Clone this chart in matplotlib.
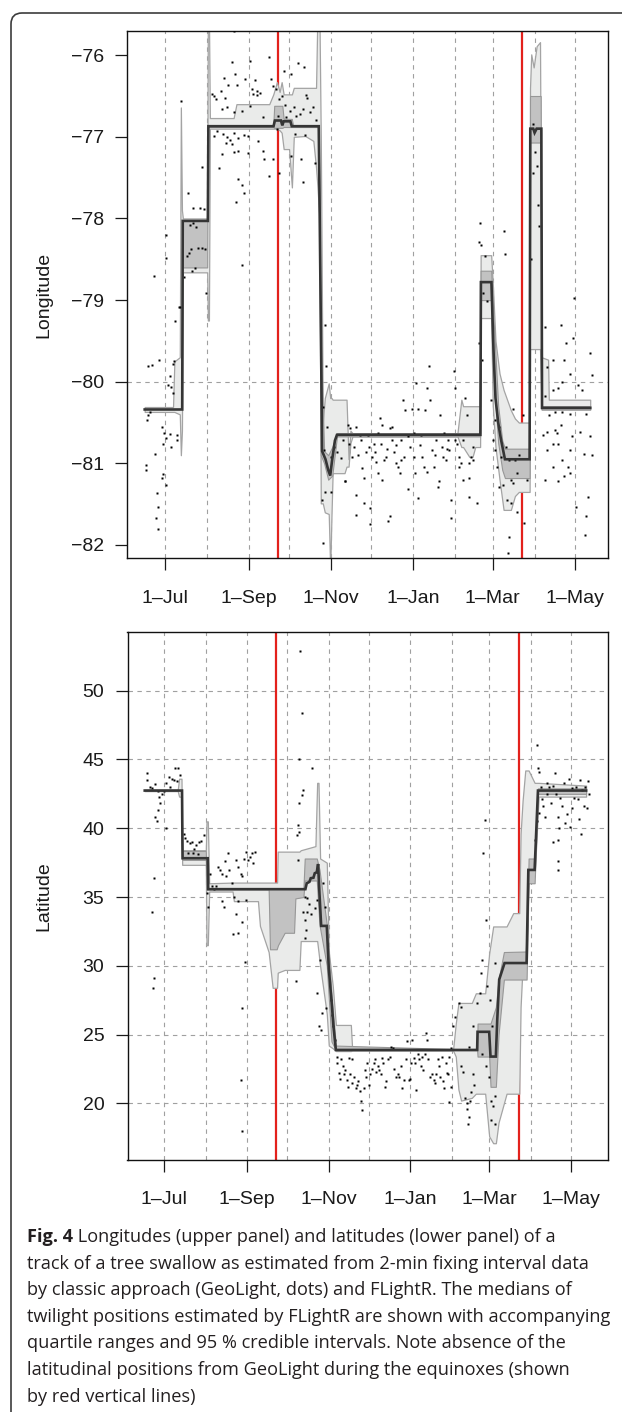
import numpy as np
import matplotlib
matplotlib.use("Agg")
import matplotlib.pyplot as plt
from matplotlib.patches import FancyBboxPatch
from matplotlib.transforms import IdentityTransform

# days are counted from 1 July
month_days = [0, 31, 62, 92, 123, 153, 184, 215, 243, 274, 304]
tick_days = [0, 62, 123, 184, 243, 304]
tick_labels = ['1\u2013Jul', '1\u2013Sep', '1\u2013Nov', '1\u2013Jan', '1\u2013Mar', '1\u2013May']
equinox_days = [83.5, 265.0]

lon_ticks = [-82, -81, -80, -79, -78, -77, -76]
lon_grid = [-80]
lat_ticks = [20, 25, 30, 35, 40, 45, 50]
lat_grid = [20, 25, 30, 35, 40, 45, 50]

# FLightR median (day, value)
lon_med = [(-15.0, -80.34), (12.8, -80.34), (13.2, -78.03), (31.8, -78.03), (32.2, -76.87),
           (80.5, -76.87), (81.5, -76.80), (86.0, -76.80), (87.0, -76.86), (88.0, -76.81),
           (93.0, -76.81), (94.0, -76.87), (114.0, -76.87), (115.5, -79.2), (116.5, -80.85),
           (119.0, -80.95), (121.0, -81.08), (122.5, -81.15), (124.0, -80.95), (126.0, -80.72),
           (127.5, -80.65), (233.8, -80.65), (234.2, -78.78), (242.0, -78.78), (243.5, -79.6),
           (245.0, -80.2), (247.0, -80.5), (249.0, -80.7), (252.0, -80.95), (270.3, -80.95),
           (270.8, -76.9), (273.0, -76.9), (274.0, -76.95), (275.5, -76.9), (279.0, -76.9),
           (279.5, -80.32), (315.2, -80.32)]

# 95 % credible interval (day, low, high)
lon_ci = [(-15.0, -80.37, -80.31), (6.0, -80.37, -80.31), (7.0, -80.37, -79.75), (11.0, -80.40, -79.70),
          (11.8, -80.90, -76.64), (12.6, -80.60, -77.90), (13.3, -78.66, -78.00), (31.3, -78.66, -78.00),
          (31.8, -79.25, -75.50), (32.6, -79.25, -75.50), (33.3, -76.90, -76.77), (50.9, -76.90, -76.77),
          (53.0, -76.90, -76.60), (77.3, -76.90, -76.60), (80.3, -76.90, -76.48), (83.0, -76.90, -76.33),
          (85.0, -76.92, -76.45), (86.5, -76.95, -76.33), (88.0, -77.15, -76.48), (92.0, -77.15, -76.48),
          (94.1, -77.62, -76.48), (95.5, -77.00, -76.40), (104.0, -76.99, -76.40), (110.0, -77.05, -76.40),
          (112.0, -77.38, -76.40), (113.0, -77.60, -75.50), (114.5, -78.00, -75.50), (115.5, -81.49, -77.00),
          (117.0, -81.49, -80.50), (118.5, -81.60, -80.20), (121.4, -81.62, -80.02), (122.5, -82.30, -80.20),
          (123.5, -81.60, -80.20), (124.3, -81.12, -80.22), (133.1, -81.12, -80.22), (134.6, -81.04, -80.22),
          (136.1, -81.04, -80.95), (137.5, -80.75, -80.60), (139.0, -80.67, -80.63), (216.8, -80.67, -80.63),
          (219.7, -80.80, -80.22), (221.0, -80.80, -80.30), (225.6, -80.92, -80.30), (228.0, -80.92, -80.30),
          (230.0, -80.80, -80.30), (233.6, -80.80, -80.30), (234.0, -79.22, -78.45), (241.8, -79.22, -78.45),
          (243.0, -80.30, -78.80), (245.0, -80.80, -79.50), (248.0, -81.20, -79.90), (251.0, -81.57, -80.10),
          (256.4, -81.57, -80.35), (259.4, -81.40, -80.45), (262.3, -81.35, -80.50), (270.3, -81.35, -80.50),
          (270.6, -79.60, -76.40), (271.5, -79.60, -75.99), (273.3, -79.60, -76.15), (275.5, -79.60, -75.89),
          (278.0, -79.60, -75.84), (279.2, -80.34, -79.70), (284.0, -80.34, -79.73), (284.5, -80.34, -80.22),
          (315.2, -80.34, -80.22)]

# quartile range (day, low, high)
lon_q = [(13.3, -78.60, -78.03), (31.3, -78.60, -78.03), (31.8, -76.88, -76.86), (80.3, -76.88, -76.86),
         (81.0, -76.89, -76.62), (87.0, -76.89, -76.62), (88.0, -76.88, -76.78), (94.0, -76.88, -76.78),
         (95.0, -76.88, -76.86), (114.0, -76.88, -76.86), (115.5, -80.90, -79.50), (118.0, -81.00, -80.85),
         (121.0, -81.20, -80.90), (124.0, -81.15, -80.80), (127.5, -80.67, -80.63), (233.6, -80.67, -80.63),
         (234.0, -79.00, -78.64), (241.8, -79.00, -78.64), (243.5, -79.90, -79.20), (247.0, -80.75, -80.30),
         (250.0, -81.08, -80.72), (252.0, -81.18, -80.82), (270.3, -81.18, -80.82), (270.6, -77.07, -76.50),
         (278.5, -77.07, -76.50), (279.2, -80.34, -80.30), (315.2, -80.34, -80.30)]

# GeoLight positions (day, value)
lon_dots = [(-12.2, -79.81), (-9.8, -79.80), (-4.3, -79.73), (-12.2, -80.41), (-13.1, -80.47), (-11.3, -80.37),
            (6.9, -79.75), (5.7, -79.78), (3.4, -79.93), (4.5, -80.07), (2.2, -80.04), (6.0, -80.14),
            (-1.9, -80.55), (-0.5, -80.63), (1.0, -80.69), (3.7, -80.64), (4.5, -80.80), (8.6, -80.65),
            (9.2, -80.71), (-1.3, -80.76), (-7.2, -80.89), (-13.7, -81.02), (-14.3, -81.08), (-1.6, -81.13),
            (-2.2, -81.18), (1.0, -81.26), (-5.7, -81.36), (-4.9, -81.53), (-6.9, -81.67), (-4.9, -81.81),
            (7.2, -79.26), (11.3, -79.09), (1.0, -78.20), (1.0, -78.48), (-8.4, -78.71), (12.2, -76.56),
            (10.4, -79.08),
            (17.2, -77.69), (21.0, -77.87), (26.0, -77.87), (28.9, -77.88), (27.4, -77.37), (24.5, -78.36),
            (27.4, -78.36), (29.8, -78.38), (16.3, -78.46), (18.0, -78.42), (19.5, -78.38), (18.6, -78.08),
            (21.0, -78.06), (23.3, -78.10), (20.4, -78.64), (22.4, -78.61), (13.9, -78.72), (30.4, -78.91),
            (56.8, -78.57),
            (50.9, -75.70), (49.5, -76.08), (63.3, -76.07), (76.8, -76.02), (88.2, -76.19), (93.5, -76.23),
            (98.8, -76.09), (103.2, -76.15), (52.1, -76.23), (43.6, -76.28), (47.1, -76.36), (41.2, -76.44),
            (53.6, -76.36), (34.8, -76.48), (36.5, -76.50), (38.0, -76.54), (44.8, -76.53), (46.0, -76.64),
            (59.7, -76.29), (66.5, -76.31), (64.7, -76.41), (68.0, -76.44), (70.3, -76.46), (65.6, -76.47),
            (68.5, -76.49), (78.8, -76.29), (80.3, -76.38), (82.3, -76.42), (84.7, -76.54), (86.7, -76.50),
            (89.1, -76.61), (92.6, -76.68), (95.5, -76.63), (100.0, -76.72), (102.3, -76.66), (105.5, -76.53),
            (109.6, -76.64), (104.7, -76.49), (42.1, -76.66), (51.5, -76.70), (57.4, -76.68), (63.3, -76.62),
            (73.0, -76.76), (84.1, -76.74), (89.7, -76.76), (97.3, -76.75), (107.3, -76.70), (111.7, -76.79),
            (36.2, -76.99), (38.6, -76.93), (42.7, -76.97), (46.0, -77.00), (48.0, -77.04), (50.9, -76.95),
            (54.5, -77.01), (58.6, -76.98), (61.8, -76.99), (45.6, -77.07), (49.8, -77.09), (53.9, -77.17),
            (61.8, -77.20), (42.1, -77.21), (51.5, -77.18), (72.4, -77.17), (40.1, -77.38), (69.1, -77.05),
            (73.5, -77.27), (80.3, -77.27), (84.7, -77.44), (77.3, -77.48), (93.5, -77.23), (100.8, -77.27),
            (96.7, -76.97), (103.8, -76.98), (111.4, -77.32), (57.4, -77.59), (53.9, -77.52), (58.6, -77.69),
            (52.7, -77.80), (102.0, -77.55), (83.2, -76.91),
            (118.5, -79.31), (119.3, -79.81), (117.0, -80.31), (119.9, -80.55), (117.9, -80.84), (123.2, -80.92),
            (125.2, -80.80), (127.3, -80.86), (130.2, -80.94), (131.7, -80.71), (133.7, -81.22), (135.5, -80.53),
            (137.5, -80.57), (139.9, -80.80), (141.9, -80.55), (143.4, -80.90), (145.5, -80.71), (146.3, -81.06),
            (147.8, -81.18), (150.2, -80.65), (151.6, -80.80), (153.7, -80.92), (155.1, -80.76), (156.6, -80.98),
            (158.1, -80.63), (159.6, -80.45), (161.0, -80.53), (162.5, -80.96), (164.8, -80.82), (166.9, -80.57),
            (168.4, -80.71), (169.8, -80.86), (171.3, -81.00), (172.8, -81.04), (174.8, -80.71), (176.6, -80.22),
            (177.8, -80.35), (180.1, -80.67), (181.6, -80.80), (183.0, -80.33), (184.5, -80.63), (186.0, -80.02),
            (187.5, -80.33), (188.9, -80.78), (190.4, -80.92), (192.5, -80.35), (194.2, -80.08), (195.4, -79.81),
            (196.3, -80.22), (197.7, -80.84), (199.2, -81.04), (200.7, -80.71), (202.1, -81.29), (203.6, -80.41),
            (205.1, -80.80), (206.5, -80.63), (208.0, -80.96), (209.5, -80.71), (210.9, -80.84), (212.4, -81.45),
            (213.9, -79.87), (214.7, -80.08), (215.3, -80.71), (216.8, -80.76), (218.3, -81.04), (219.7, -81.00),
            (221.2, -81.20), (222.7, -80.20), (224.1, -80.41), (225.6, -81.18), (227.1, -80.92), (228.6, -80.96),
            (231.5, -81.49), (225.6, -81.41), (212.4, -81.67), (180.1, -81.31), (187.5, -81.43), (166.9, -81.65),
            (165.4, -81.71), (152.2, -81.74), (152.2, -81.55), (147.2, -81.49), (141.3, -81.39), (141.3, -81.63),
            (133.1, -81.22), (158.1, -81.12), (161.0, -81.20), (174.2, -81.12), (185.4, -81.12), (194.2, -81.10),
            (203.0, -81.22), (117.0, -81.97), (118.5, -81.35), (122.9, -81.35), (116.1, -81.45), (225.6, -81.00),
            (136.1, -80.76), (139.0, -80.92), (149.3, -80.86), (156.0, -80.86), (160.1, -80.76), (164.0, -80.92),
            (171.3, -80.78), (177.2, -80.92), (184.5, -80.92), (189.5, -80.65), (191.9, -81.04), (200.0, -80.90),
            (205.9, -80.92), (208.9, -80.82), (218.3, -80.92), (221.2, -80.71), (228.6, -80.80), (144.3, -80.65),
            (168.4, -80.55), (174.8, -80.96),
            (233.6, -78.06), (251.2, -78.15), (252.0, -78.44), (233.0, -78.29), (237.4, -78.46), (234.4, -78.33),
            (238.8, -79.01), (235.9, -78.91), (233.0, -79.53), (235.3, -79.73), (241.8, -80.22), (243.2, -80.71),
            (244.7, -80.47), (247.6, -80.55), (249.1, -80.92), (244.7, -80.84), (246.2, -81.04), (254.9, -80.96),
            (256.4, -81.20), (257.9, -81.24), (259.4, -80.96), (260.8, -81.12), (262.3, -80.90), (257.9, -80.33),
            (265.3, -80.41), (253.5, -81.45), (256.4, -81.49), (260.8, -81.59), (265.9, -81.73), (254.9, -81.90),
            (254.3, -82.10), (250.6, -81.27), (247.6, -81.29), (252.9, -80.80), (268.2, -81.20),
            (272.6, -76.84), (274.1, -77.19), (275.5, -77.36), (277.0, -78.09), (276.4, -77.84), (272.6, -77.44),
            (271.1, -78.50), (303.4, -78.97), (281.4, -79.33), (282.9, -79.82), (287.3, -79.73), (293.2, -79.31),
            (297.6, -79.53), (302.8, -79.46), (296.1, -79.73), (300.5, -79.90), (287.3, -80.10), (291.7, -80.08),
            (294.0, -80.00), (306.4, -80.04), (309.3, -80.10), (315.2, -79.65), (316.7, -79.92), (281.4, -80.18),
            (284.3, -80.41), (288.8, -80.37), (294.6, -80.37), (300.5, -80.39), (312.2, -80.39), (280.0, -80.65),
            (282.9, -80.61), (288.8, -80.59), (290.3, -80.63), (293.2, -80.53), (282.9, -80.84), (287.3, -80.76),
            (291.7, -80.76), (300.5, -80.84), (302.0, -80.67), (307.9, -80.61), (315.2, -80.67), (316.7, -80.90),
            (310.7, -80.88), (294.6, -80.96), (299.0, -81.04), (300.5, -81.12), (291.7, -81.22), (296.1, -81.16),
            (305.0, -81.53), (312.2, -81.65), (311.6, -81.88), (313.7, -81.41), (287.3, -81.04), (281.4, -81.20)]

lat_med = [(-14.7, 42.74), (13.2, 42.74), (13.6, 37.82), (32.4, 37.82), (32.8, 35.57), (105.5, 35.57),
           (106.5, 36.0), (108.5, 36.1), (109.5, 36.37), (111.5, 36.4), (112.5, 36.73), (114.0, 36.8),
           (115.0, 37.4), (116.0, 35.3), (117.3, 32.9), (121.5, 32.9), (123.0, 29.8), (125.0, 27.5),
           (126.5, 25.6), (128.3, 23.88), (234.0, 23.88), (234.3, 25.2), (243.0, 25.2), (244.0, 23.4),
           (248.0, 23.4), (249.0, 26.0), (250.5, 29.0), (254.5, 30.2), (271.0, 30.2), (272.3, 36.97),
           (277.0, 36.97), (279.5, 42.74), (315.5, 42.74)]

lat_ci = [(-14.7, 42.70, 42.80), (10.0, 42.70, 42.80), (11.0, 42.30, 43.60), (12.8, 42.30, 43.60),
          (13.3, 37.34, 38.40), (31.0, 37.34, 38.40), (31.5, 31.50, 40.50), (32.5, 31.50, 40.50),
          (33.5, 35.40, 36.00), (51.0, 35.40, 36.05), (52.0, 34.70, 36.05), (70.0, 34.70, 36.05),
          (71.5, 32.90, 36.05), (78.0, 31.00, 36.05), (81.0, 28.40, 36.05), (84.3, 28.40, 36.05),
          (84.8, 29.50, 38.30), (90.0, 29.70, 38.30), (101.0, 29.70, 38.30), (102.0, 31.80, 38.40),
          (113.0, 31.80, 38.70), (114.3, 31.80, 43.30), (115.3, 31.00, 43.30), (116.5, 30.00, 37.80),
          (121.5, 26.50, 37.50), (123.0, 24.20, 31.00), (126.0, 24.00, 28.50), (128.3, 23.80, 25.70),
          (139.5, 23.80, 25.70), (140.5, 23.84, 23.92), (216.0, 23.84, 23.92), (218.0, 23.40, 25.80),
          (220.0, 21.00, 27.30), (222.0, 20.20, 27.30), (230.0, 20.40, 27.30), (233.0, 20.70, 28.00),
          (240.0, 20.70, 28.00), (243.0, 17.60, 30.90), (246.0, 17.10, 32.86), (248.0, 17.10, 32.86),
          (250.0, 18.60, 32.86), (256.0, 20.70, 32.86), (261.0, 20.70, 33.83), (265.5, 20.70, 33.83),
          (266.5, 27.00, 39.60), (268.0, 30.00, 42.00), (270.0, 30.00, 44.20), (272.5, 36.00, 44.20),
          (277.0, 36.50, 43.30), (280.0, 42.30, 43.30), (315.5, 42.30, 43.10)]

lat_q = [(13.3, 37.70, 38.35), (31.0, 37.70, 38.35), (31.5, 35.55, 35.60), (78.0, 35.55, 35.60),
         (79.0, 31.20, 35.60), (84.0, 31.20, 35.60), (85.0, 31.50, 35.60), (90.0, 32.40, 35.60),
         (97.0, 32.40, 35.60), (98.0, 34.90, 35.60), (104.0, 35.00, 35.60), (105.0, 36.20, 37.80),
         (114.0, 36.20, 37.80), (116.0, 33.00, 37.00), (121.5, 30.00, 33.00), (125.0, 24.50, 28.00),
         (128.3, 23.86, 24.20), (234.0, 23.86, 23.90), (234.3, 23.40, 25.80), (243.0, 23.40, 25.80),
         (244.0, 21.20, 25.80), (248.0, 21.20, 27.00), (250.0, 25.00, 29.00), (254.0, 29.00, 31.00),
         (271.0, 29.00, 31.04), (272.5, 36.00, 37.80), (277.0, 36.00, 37.80), (279.5, 42.50, 42.90),
         (315.5, 42.50, 42.90)]

lat_dots = [(-12.8, 44.0), (-12.8, 43.5), (-11.0, 43.0), (-8.9, 42.9), (-6.8, 43.2), (-5.1, 42.7), (-3.9, 42.3),
            (-3.0, 41.8), (-5.1, 41.3), (-6.8, 40.8), (-5.9, 40.5), (1.5, 40.0), (0.0, 42.7), (1.5, 43.3),
            (3.8, 43.7), (5.9, 43.6), (7.4, 43.5), (8.3, 44.4), (10.3, 44.4), (9.8, 43.4), (11.8, 43.9),
            (4.4, 43.0), (-1.5, 42.5), (-8.0, 36.4), (-9.5, 33.9), (-8.0, 29.1), (-8.6, 28.4),
            (15.7, 39.3), (16.9, 39.1), (19.2, 38.9), (20.7, 39.0), (22.2, 38.5), (23.7, 38.8), (25.8, 39.0),
            (27.5, 39.1), (29.9, 39.5), (17.8, 38.2), (21.6, 38.2), (25.2, 38.1), (14.8, 39.6),
            (34.1, 36.7), (35.5, 35.8), (37.0, 35.6), (38.5, 35.8), (40.0, 37.2), (41.5, 37.0), (42.9, 36.7),
            (45.3, 37.6), (47.4, 38.2), (45.9, 36.5), (48.3, 37.0), (50.4, 36.0), (51.8, 35.0), (53.9, 37.7),
            (55.4, 37.2), (57.2, 36.7), (59.2, 37.8), (60.7, 38.3), (62.2, 37.7), (63.7, 37.9), (65.2, 38.2),
            (68.1, 38.3), (66.6, 37.5), (54.8, 34.7), (53.3, 33.8), (57.8, 33.2), (51.2, 32.3), (55.4, 32.4),
            (44.4, 34.3), (42.9, 34.7), (32.6, 34.3), (31.7, 35.3), (60.7, 34.8), (58.3, 36.5),
            (60.1, 30.3), (57.8, 26.9), (57.2, 21.7), (57.8, 18.0),
            (99.8, 37.7), (100.7, 39.7), (102.8, 48.35), (101.3, 52.9), (100.7, 45.0), (110.2, 44.4),
            (103.7, 42.8), (102.8, 42.4), (100.7, 41.8), (99.8, 40.2), (99.2, 39.5), (105.2, 35.0),
            (106.7, 34.9), (108.1, 34.5), (103.7, 33.9), (106.7, 33.9), (105.2, 33.3), (109.6, 33.8),
            (112.6, 34.2), (114.1, 34.8), (106.1, 32.6), (105.2, 32.0), (116.4, 30.4), (118.5, 36.0),
            (120.0, 34.3), (98.6, 28.9), (114.1, 28.0), (115.5, 25.6), (117.0, 25.3), (117.6, 26.6),
            (120.6, 26.9), (124.4, 27.5), (125.3, 26.4), (126.5, 25.6), (127.4, 24.6),
            (128.9, 23.4), (129.5, 22.9), (130.4, 22.2), (131.2, 21.8), (131.8, 23.2), (133.3, 22.7),
            (134.2, 22.1), (134.8, 22.4), (136.3, 21.7), (137.2, 21.2), (137.8, 23.3), (139.2, 22.1),
            (140.1, 21.5), (140.7, 23.2), (142.2, 21.9), (143.1, 21.1), (144.3, 21.3), (145.2, 21.6),
            (146.1, 20.9), (147.2, 20.2), (148.1, 19.5), (149.0, 21.1), (150.2, 22.4), (151.1, 21.9),
            (151.9, 22.9), (153.2, 21.3), (154.0, 22.1), (155.5, 22.5), (157.0, 22.9), (157.9, 23.2),
            (158.5, 22.3), (160.0, 22.7), (160.9, 22.4), (162.1, 22.1), (162.9, 23.3), (163.8, 22.9),
            (165.0, 21.2), (165.9, 21.6), (167.4, 23.2), (168.9, 23.4), (169.8, 24.1), (170.9, 24.0),
            (171.8, 22.5), (173.3, 21.9), (174.8, 22.1), (175.7, 21.9), (176.9, 22.7), (177.8, 21.1),
            (179.3, 21.7), (180.7, 23.2), (181.6, 24.5), (182.8, 21.7), (183.7, 21.8), (184.6, 22.9),
            (185.2, 24.6), (186.7, 23.3), (187.5, 22.9), (188.1, 21.0), (189.6, 23.6), (190.5, 23.2),
            (191.7, 22.7), (192.6, 23.4), (193.5, 22.4), (194.7, 23.6), (195.6, 25.1), (196.5, 24.6),
            (197.6, 23.2), (198.5, 21.9), (200.0, 22.1), (201.5, 21.7), (202.4, 21.5), (203.0, 22.1),
            (204.4, 23.2), (205.3, 22.7), (206.5, 21.9), (207.4, 23.4), (208.3, 21.6), (208.9, 21.1),
            (210.4, 22.9), (211.3, 22.2), (212.4, 22.1), (213.3, 23.4), (213.3, 20.1), (214.2, 21.2),
            (214.8, 24.0), (216.3, 25.6), (217.8, 26.3), (220.1, 27.3), (222.2, 27.0), (222.2, 22.7),
            (223.1, 22.3), (225.2, 20.4), (226.1, 20.0), (226.7, 19.6), (228.1, 19.0), (227.3, 18.5),
            (229.0, 20.2), (229.6, 20.8), (231.1, 22.1), (232.0, 21.3), (228.1, 24.1), (231.1, 25.6),
            (234.1, 27.3), (236.1, 28.0), (237.0, 29.5), (241.5, 28.5), (243.8, 27.5), (245.0, 25.6),
            (242.9, 21.9), (244.4, 20.2), (245.9, 19.8), (247.4, 20.5), (244.4, 18.8), (247.4, 18.5),
            (237.9, 23.6), (240.9, 22.7), (240.0, 40.6), (238.5, 38.2), (240.9, 33.3), (237.9, 30.4),
            (247.4, 30.2),
            (278.5, 46.05), (279.4, 44.4), (280.6, 44.1), (281.5, 43.0), (282.4, 42.1), (283.6, 41.6),
            (284.5, 40.8), (277.0, 39.15), (278.5, 40.5), (280.0, 41.1), (285.9, 42.5), (287.4, 43.0),
            (288.9, 41.8), (290.4, 43.1), (291.9, 44.0), (293.3, 42.5), (294.8, 40.8), (295.4, 40.0),
            (294.2, 39.15), (290.4, 39.0), (294.8, 37.6), (294.8, 37.0), (297.8, 41.6), (299.3, 43.3),
            (300.1, 40.4), (301.3, 41.0), (302.5, 43.6), (303.7, 40.1), (305.2, 41.5), (306.7, 42.2),
            (308.2, 43.0), (309.6, 42.1), (310.2, 40.7), (311.4, 39.6), (312.6, 42.8), (314.1, 41.6),
            (315.0, 43.0), (316.1, 41.5), (317.0, 43.4), (317.9, 42.5), (311.1, 43.5), (305.2, 42.9),
            (296.3, 42.2), (285.9, 43.3)]

caption_lines = [
    "track of a tree swallow as estimated from 2-min fixing interval data",
    "by classic approach (GeoLight, dots) and FLightR. The medians of",
    "twilight positions estimated by FLightR are shown with accompanying",
    "quartile ranges and 95 % credible intervals. Note absence of the",
    "latitudinal positions from GeoLight during the equinoxes (shown",
    "by red vertical lines)",
]

plt.rcParams['font.family'] = ['Liberation Sans', 'DejaVu Sans']

W, H = 622, 1412
fig = plt.figure(figsize=(W / 100, H / 100), dpi=100)


def draw_panel(ax, ci, q, med, dots, xlim, ylim, yticks, hgrid, ylabel):
    for d in month_days:
        ax.axvline(d, color='#a0a0a0', lw=0.8, ls=(0, (4, 4)), zorder=0)
    for v in hgrid:
        ax.axhline(v, color='#a0a0a0', lw=0.8, ls=(0, (4, 4)), zorder=0)
    for d in equinox_days:
        ax.axvline(d, color='#e3211c', lw=1.6, zorder=1)
    ci = np.array(ci)
    ax.fill_between(ci[:, 0], ci[:, 1], ci[:, 2], facecolor='#eaebea', edgecolor='#a4a4a4',
                    lw=0.9, zorder=2)
    q = np.array(q)
    ax.fill_between(q[:, 0], q[:, 1], q[:, 2], facecolor='#c2c2c2', edgecolor='#979797',
                    lw=0.8, zorder=3)
    dots = np.array(dots)
    ax.plot(dots[:, 0], dots[:, 1], 's', ms=1.9, color='black', mec='none', zorder=4)
    med = np.array(med)
    ax.plot(med[:, 0], med[:, 1], color='#353535', lw=1.9, zorder=5, solid_joinstyle='miter')
    ax.set_xlim(*xlim)
    ax.set_ylim(*ylim)
    ax.set_xticks(tick_days)
    ax.set_xticklabels(tick_labels)
    ax.set_yticks(yticks)
    ax.tick_params(direction='out', length=8.6, width=0.9, labelsize=14, colors='#1a1a1a')
    ax.tick_params(axis='x', pad=14)
    ax.tick_params(axis='y', pad=8)
    for s in ax.spines.values():
        s.set_linewidth(1.0)
        s.set_color('#111111')
    ax.text(-0.174, 0.5, ylabel, transform=ax.transAxes, rotation=90, ha='center', va='center',
            fontsize=14, color='#1a1a1a')


ax1 = fig.add_axes([127.3 / W, 1 - 558.3 / H, (608 - 127.3) / W, (558.3 - 30.7) / H])
draw_panel(ax1, lon_ci, lon_q, lon_med, lon_dots, (-27.9, 328.4), (-82.163, -75.70),
           lon_ticks, lon_grid, 'Longitude')

ax2 = fig.add_axes([127.5 / W, 1 - 1160 / H, (608 - 127.5) / W, (1160 - 631.7) / H])
draw_panel(ax2, lat_ci, lat_q, lat_med, lat_dots, (-27.6, 331.9), (15.88, 54.29),
           lat_ticks, lat_grid, 'Latitude')

# rounded frame around figure and caption
border = FancyBboxPatch((11, -20), 700, H - 13 + 20, boxstyle="round,pad=0,rounding_size=11",
                        transform=IdentityTransform(), fill=False, ec='#3c3c3c', lw=1.2)
fig.add_artist(border)

cap_font = ['Open Sans', 'DejaVu Sans']
cap_size = 13.1
x0 = 27 / W
base0 = 1242
step = 26.6
t = fig.text(x0, 1 - base0 / H, "Fig. 4", fontsize=cap_size, family=cap_font, weight='bold',
             color='#231f20', va='baseline')
fig.canvas.draw()
bb = t.get_window_extent(renderer=fig.canvas.get_renderer())
fig.text(bb.x1 / W, 1 - base0 / H, " Longitudes (upper panel) and latitudes (lower panel) of a",
         fontsize=cap_size, family=cap_font, color='#231f20', va='baseline')
for i, line in enumerate(caption_lines):
    fig.text(x0, 1 - (base0 + step * (i + 1)) / H, line, fontsize=cap_size, family=cap_font,
             color='#231f20', va='baseline')

fig.savefig('out.png', dpi=100)
